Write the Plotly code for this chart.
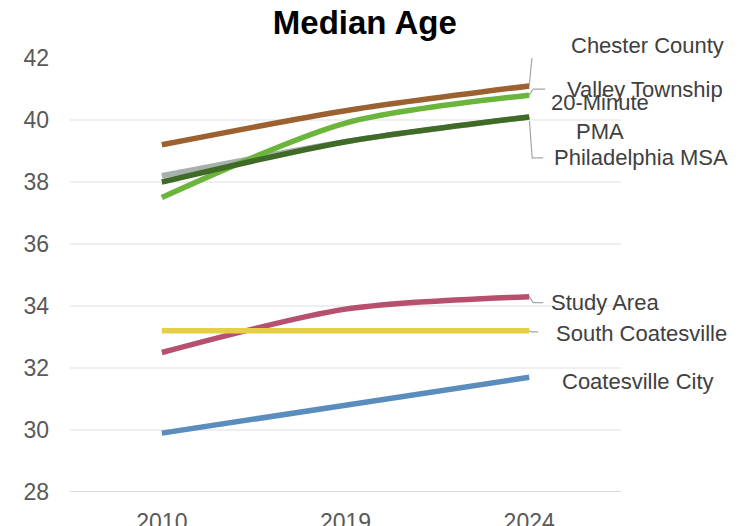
import plotly.graph_objects as go

years = ["2010", "2019", "2024"]
chester_county = [39.2, 40.3, 41.1]
pma_20min = [38.2, 39.3, 40.1]
valley_township = [37.5, 39.9, 40.8]
philadelphia_msa = [38.0, 39.3, 40.1]
study_area = [32.5, 33.9, 34.3]
south_coatesville = [33.2, 33.2, 33.2]
coatesville_city = [29.9, 30.8, 31.7]
y_ticks = [28, 30, 32, 34, 36, 38, 40, 42]

series = [
    ("Chester County", chester_county, "#9C6131"),
    ("20-Minute PMA", pma_20min, "#A7B1AB"),
    ("Valley Township", valley_township, "#6BB53C"),
    ("Philadelphia MSA", philadelphia_msa, "#3F6B27"),
    ("Study Area", study_area, "#B7506F"),
    ("South Coatesville", south_coatesville, "#E6CF48"),
    ("Coatesville City", coatesville_city, "#5A8DBE"),
]

fig = go.Figure()
for name, vals, col in series:
    fig.add_trace(go.Scatter(
        x=list(range(len(years))), y=vals, name=name, mode="lines",
        line=dict(color=col, width=5.5, shape="spline", smoothing=0.8),
        hoverinfo="skip",
    ))

LAB_FONT = dict(family="Liberation Sans", size=22, color="#404040")
TICK_FONT = dict(family="Liberation Sans", size=23, color="#595959")

# (series values, label text, xshift, yshift, xanchor, leader path in pixel offsets or None)
labels = [
    (chester_county, "Chester County", 40, 40, "left", "M 0,0 L 4,40 L 16,40"),
    (valley_township, "Valley Township", 36, 6, "left", "M 0,0 L 4,6 L 16,6"),
    (pma_20min, "20-Minute<br>PMA", 71, 0, "center", None),
    (philadelphia_msa, "Philadelphia MSA", 23, -41, "left", "M 0,0 L 3,-41 L 14,-41"),
    (study_area, "Study Area", 20, -6, "left", "M 0,0 L 4,-6 L 14,-6"),
    (south_coatesville, "South Coatesville", 25, -3, "left", "M 0,0 L 2,-1 L 9,-1"),
    (coatesville_city, "Coatesville City", 31, -4, "left", None),
]
last = len(years) - 1
for vals, text, xs, ys, xa, path in labels:
    fig.add_annotation(
        x=last, y=vals[last], xref="x", yref="y", text=text, showarrow=False,
        xanchor=xa, yanchor="middle", xshift=xs, yshift=ys, font=LAB_FONT,
        align="center",
    )
    if path:
        fig.add_shape(
            type="path", xref="x", yref="y", xsizemode="pixel", ysizemode="pixel",
            xanchor=last, yanchor=vals[last], path=path,
            line=dict(color="#A6A6A6", width=1.2), layer="below",
        )

fig.update_layout(
    width=740, height=526,
    margin=dict(l=70, r=119, t=58, b=34),
    paper_bgcolor="white", plot_bgcolor="white",
    showlegend=False,
    title=dict(text="<b>Median Age</b>", x=0.493, xanchor="center", y=0.958, yanchor="middle",
               font=dict(family="Liberation Sans", size=33, color="#000000")),
    xaxis=dict(
        range=[-0.5, 2.5], tickmode="array", tickvals=list(range(len(years))), ticktext=years,
        showgrid=False, zeroline=False, showline=False, ticks="", automargin=False,
        tickfont=TICK_FONT, ticklabelstandoff=14,
    ),
    yaxis=dict(
        range=[28, 42], tickvals=y_ticks, showgrid=True, gridcolor="#EFEFEF", gridwidth=1.5,
        zeroline=False, showline=False, ticks="", automargin=False,
        tickfont=TICK_FONT, ticklabelstandoff=20,
    ),
)
fig.add_hline(y=28, line=dict(color="#D9D9D9", width=2), layer="below")

fig.write_html("out.html")
